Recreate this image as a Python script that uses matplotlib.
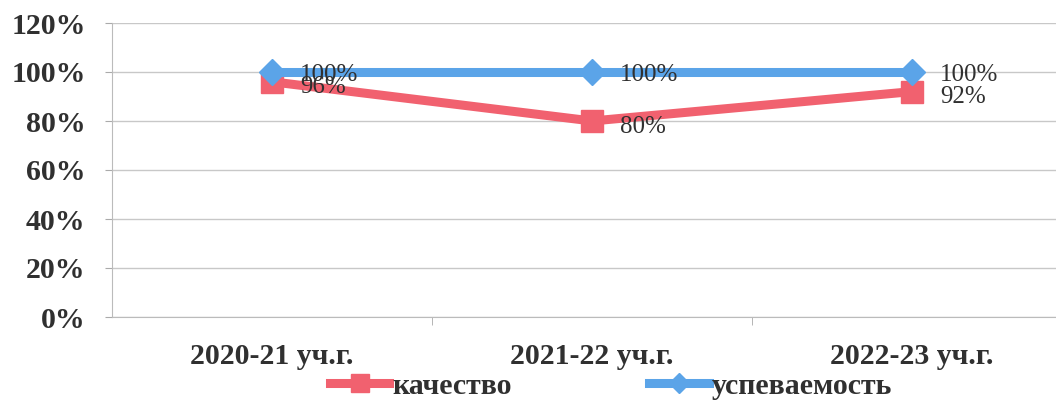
import matplotlib
matplotlib.use("Agg")
import matplotlib.pyplot as plt
from matplotlib.ticker import FuncFormatter

categories = ["2020-21 уч.г.", "2021-22 уч.г.", "2022-23 уч.г."]
quality = [96, 80, 92]
progress = [100, 100, 100]
series_names = ["качество", "успеваемость"]
y_ticks = [0, 20, 40, 60, 80, 100, 120]

plt.rcParams['font.family'] = ['Liberation Serif', 'DejaVu Serif']

fig = plt.figure(figsize=(10.56, 4.03), dpi=100)
ax = fig.add_axes([112/1056, 86/403, 960/1056, 294/403])

red = "#F1616F"
blue = "#5BA4E8"
txt = "#303030"
x = list(range(len(categories)))

l1, = ax.plot(x, quality, color=red, lw=6.5, marker='s', markersize=16,
              solid_joinstyle='miter', zorder=3, label=series_names[0])
l2, = ax.plot(x, progress, color=blue, lw=6.5, marker='D', markersize=13,
              zorder=4, label=series_names[1])

for xi, v in zip(x, progress):
    ax.annotate(f"{v}%", (xi, v), xytext=(20, -2), textcoords='offset points',
                ha='left', va='center', fontsize=18, color=txt, zorder=6)
for xi, v in zip(x, quality):
    ax.annotate(f"{v}%", (xi, v), xytext=(20, -4), textcoords='offset points',
                ha='left', va='center', fontsize=18, color=txt, zorder=5)

ax.set_xlim(-0.5, 2.5)
ax.set_ylim(0, 120)
ax.set_yticks(y_ticks)
ax.yaxis.set_major_formatter(FuncFormatter(lambda v, p: f"{int(v)}%"))
ax.set_xticks(x)
ax.set_xticklabels(categories)
ax.set_xticks([0.5, 1.5], minor=True)
ax.tick_params(axis='x', which='major', length=0, pad=19)
ax.tick_params(axis='x', which='minor', length=6, color='#AAAAAA')
ax.tick_params(axis='y', length=5, color='#AAAAAA', pad=14)
for lab in ax.get_xticklabels() + ax.get_yticklabels():
    lab.set_fontsize(21.5)
    lab.set_fontweight('bold')
    lab.set_color(txt)

ax.grid(axis='y', color='#C8C8C8', lw=1)
ax.set_axisbelow(True)
for s in ['top', 'right']:
    ax.spines[s].set_visible(False)
ax.spines['left'].set_color('#BBBBBB')
ax.spines['bottom'].set_color('#BBBBBB')

fig.legend(handles=[l1, l2], labels=series_names, loc='center',
           bbox_to_anchor=(611/1056, 1-386/403), ncol=2, frameon=False,
           handlelength=2.0, columnspacing=4.6, handletextpad=0.1,
           prop={'size': 21.5, 'weight': 'bold'}, labelcolor=txt,
           markerscale=0.8)

fig.savefig("out.png", dpi=100)
